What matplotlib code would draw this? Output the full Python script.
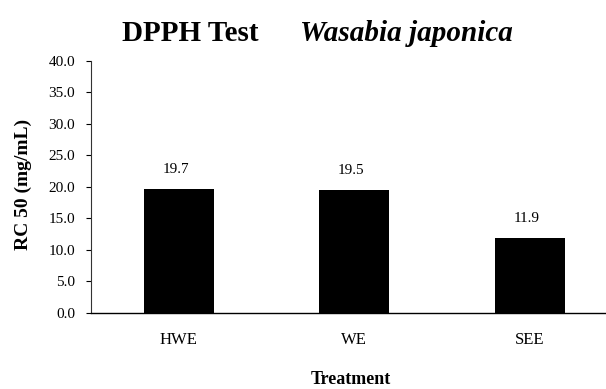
import matplotlib
matplotlib.use("Agg")
import matplotlib.pyplot as plt
import numpy as np

categories = ["HWE", "WE", "SEE"]
values = [19.7, 19.5, 11.9]
value_labels = ["19.7", "19.5", "11.9"]
yticks = [0.0, 5.0, 10.0, 15.0, 20.0, 25.0, 30.0, 35.0, 40.0]

plt.rcParams['font.family'] = ['Liberation Serif', 'DejaVu Serif']

W, H = 606, 389
fig = plt.figure(figsize=(W / 100, H / 100), dpi=100)
ax = fig.add_axes([91 / W, 1 - 312.7 / H, 526.5 / W, 252 / H])

x = np.arange(len(categories))
ax.bar(x, values, width=0.4, color='black', zorder=2)
for xi, v, lab in zip(x, values, value_labels):
    ax.annotate(lab, (xi, v), xytext=(-2, 9), textcoords='offset points',
                ha='center', va='bottom', fontsize=11)

ax.set_xlim(-0.5, 2.5)
ax.set_ylim(0, 40)
ax.set_yticks(yticks)
ax.set_yticklabels([f"{t:.1f}" for t in yticks], fontsize=11)
ax.set_xticks(x)
ax.set_xticklabels(categories, fontsize=12)
ax.tick_params(axis='x', length=0, pad=14)
ax.tick_params(axis='y', length=3.6, width=0.8, pad=8, direction='out')

for s in ['top', 'right']:
    ax.spines[s].set_visible(False)
ax.spines['left'].set_linewidth(0.8)
ax.spines['bottom'].set_linewidth(1.0)
ax.spines['left'].set_color('#333333')

fig.text(122 / W, 1 - 41 / H, "DPPH Test", fontsize=21, fontweight='bold',
         ha='left', va='baseline')
fig.text(300 / W, 1 - 41 / H, "Wasabia japonica", fontsize=21, fontweight='bold',
         style='italic', ha='left', va='baseline')

fig.text(23 / W, 1 - 184 / H, "RC 50 (mg/mL)", fontsize=14, fontweight='bold',
         rotation=90, ha='center', va='center')
fig.text(351 / W, 1 - 380 / H, "Treatment", fontsize=13, fontweight='bold',
         ha='center', va='center')

fig.savefig("out.png", dpi=100)
